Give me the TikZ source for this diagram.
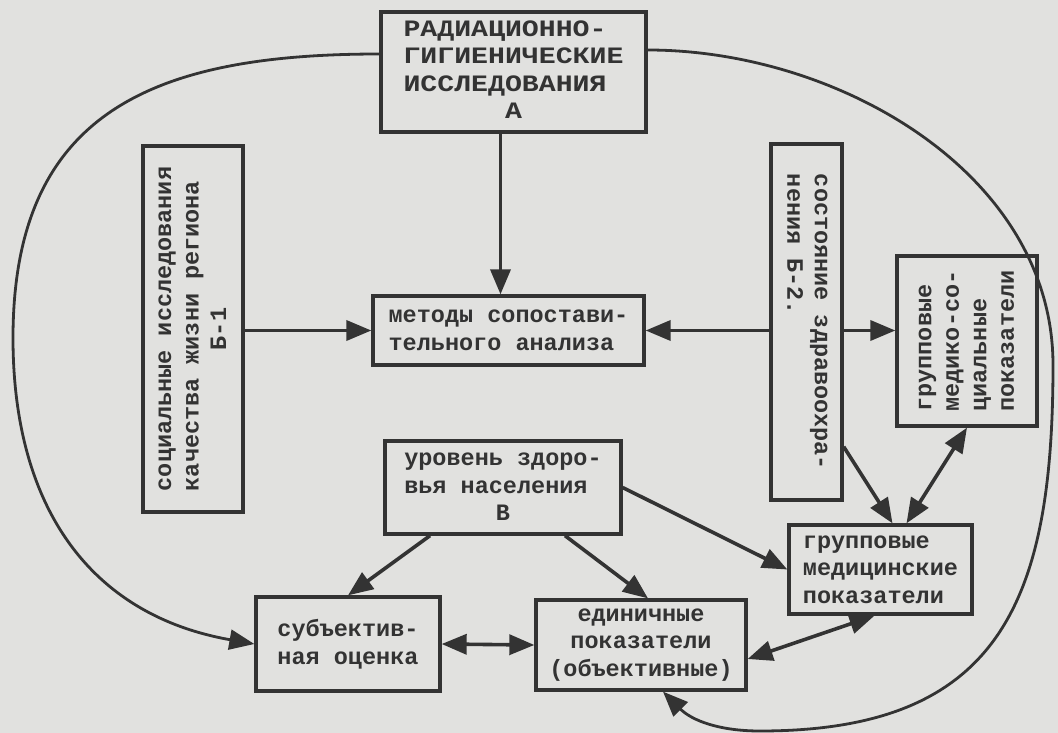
\documentclass[tikz,border=0pt]{standalone}
\usepackage{fontspec}
\setmonofont{Liberation Mono}
\newfontfamily\capsfont[FakeStretch=1.2]{Liberation Mono}
\usepackage{graphicx}
\usepackage{tikz}
\usetikzlibrary{positioning,arrows.meta,calc}
\definecolor{ink}  {HTML}{333333}
\definecolor{paper}{HTML}{E1E1DF}

\begin{document}
\begin{tikzpicture}[
  x=1pt, y=1pt,
  font=\ttfamily\bfseries\fontsize{23.5}{27.5}\selectfont,
  box/.style={draw=ink, line width=3.3pt, text=ink, inner sep=0pt, align=left},
  link/.style={draw=ink, line width=3.6pt, -{Triangle[length=25pt,width=20pt]}},
  twoway/.style={link, {Triangle[length=25pt,width=20pt]}-{Triangle[length=25pt,width=20pt]}},
  orbit/.style={draw=ink, line width=2.8pt, -{Triangle[length=25pt,width=20pt]}}
]
\fill[paper] (0,0) rectangle (1058,-733);
\useasboundingbox (0,0) rectangle (1058,-733);

% boxes
\node[box, minimum width=265, minimum height=120] (A) at (513.5,-72)
  {{\capsfont\begin{tabular}{@{}l@{}}РАДИАЦИОННО-\\ГИГИЕНИЧЕСКИЕ\\ИССЛЕДОВАНИЯ\\\multicolumn{1}{@{}c@{}}{А}\end{tabular}}};
\node[box, minimum width=100, minimum height=366] (B1) at (193,-329)
  {\rotatebox{90}{\begin{tabular}{@{}l@{}}социальные исследования\\качества жизни региона\\\multicolumn{1}{@{}c@{}}{Б-1}\end{tabular}}};
\node[box, minimum width=71, minimum height=356] (B2) at (806.5,-322)
  {\rotatebox{-90}{\begin{tabular}{@{}l@{}}состояние здравоохра-\\нения Б-2.\end{tabular}}};
\node[box, minimum width=140, minimum height=170] (MS) at (967,-341)
  {\rotatebox{90}{\begin{tabular}{@{}l@{}}групповые\\медико-со-\\циальные\\показатели\end{tabular}}};
\node[box, minimum width=271, minimum height=69] (M) at (508.5,-330.5)
  {методы сопостави-\\тельного анализа};
\node[box, minimum width=236, minimum height=93] (U) at (503,-487.5)
  {\begin{tabular}{@{}l@{}}уровень здоро-\\вья населения\\\multicolumn{1}{@{}c@{}}{В}\end{tabular}};
\node[box, minimum width=183, minimum height=89] (GM) at (880.5,-569.5)
  {групповые\\медицинские\\показатели};
\node[box, minimum width=184, minimum height=94] (S) at (348,-644)
  {субъектив-\\ная оценка};
\node[box, minimum width=210, minimum height=90, align=center] (E) at (641,-645)
  {единичные\\показатели\\(объективные)};

% straight links
\draw[link] ([xshift=-13pt]A.south) -- ([xshift=-13pt]A.south |- M.north);
\draw[link] (B1.east |- M.west) -- (M.west);
\draw[link] (B2.west |- M.east) -- (M.east);
\draw[link] (B2.east |- M.east) -- (MS.west |- M.east);
\draw[link] ([yshift=55pt]B2.south east) -- ([xshift=12pt]GM.north);
\draw[twoway] (MS.south) -- ([xshift=26pt]GM.north);
\draw[link] (U.east) -- (GM.west);
\draw[link] ([xshift=-73pt]U.south) -- (S.north);
\draw[link] ([xshift=62pt]U.south) -- ([xshift=7pt]E.north);
\draw[twoway] (S.east) -- (E.west);
\draw[twoway] ([xshift=-6pt]GM.south) -- ([yshift=-14pt]E.east);

% outer loop
\coordinate (lw) at (13,-338);
\coordinate (re) at (1053,-365);
\coordinate (bt) at (760,-731);
\draw[orbit] ([yshift=18pt]A.west) to[out=180,in=90,looseness=1.25] (lw)
  to[out=-90,in=170,looseness=1.1] (S.west);
\draw[orbit] ([yshift=22pt]A.east) to[out=0,in=90,looseness=0.95] (re)
  to[out=-90,in=0,looseness=1.3] (bt) to[out=180,in=-45] ([xshift=22pt]E.south);
\end{tikzpicture}
\end{document}
